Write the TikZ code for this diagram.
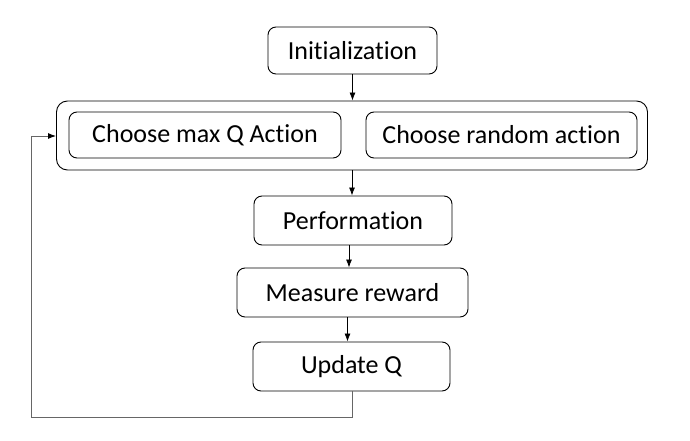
\documentclass[tikz,border=0pt]{standalone}
\usepackage{fontspec}
\setmainfont[Ligatures={NoCommon}]{Carlito}
\usetikzlibrary{arrows.meta,calc}
\begin{document}
\begin{tikzpicture}[x=1pt,y=-1pt,
  box/.style={draw=black,line width=0.9pt,rounded corners=8pt,inner sep=0pt,
    font=\fontsize{26}{30}\selectfont,text=black},
  arr/.style={draw=black,line width=0.8pt,-{Latex[length=8pt,width=6pt]}},
  loopline/.style={draw=black!60,line width=1pt,-{Latex[length=8pt,width=6pt,color=black]}}]
\useasboundingbox[fill=white] (0,0) rectangle (690,441);
\node[box,minimum width=169pt,minimum height=47pt] (init) at (352.5,50.5) {Initialization};
\node[box,rounded corners=11pt,minimum width=591pt,minimum height=69pt] (outer) at (352,135.5) {};
\node[box,minimum width=272pt,minimum height=46pt] (maxq) at (205,135) {Choose max Q Action};
\node[box,minimum width=271pt,minimum height=46pt] (rand) at (501.5,135) {Choose random action};
\node[box,minimum width=198pt,minimum height=49pt] (perf) at (353,220.5) {Performation};
\node[box,minimum width=231pt,minimum height=49pt] (meas) at (352.5,292.5) {Measure reward};
\node[box,minimum width=197pt,minimum height=49pt] (upd) at (351.5,366.5) {Update Q};
\coordinate (p1) at ($(perf.south)+(-4,0)$);
\coordinate (m1) at ($(meas.south)+(-5,0)$);
\draw[arr] (init.south) -- (init.south |- outer.north);
\draw[arr] (outer.south) -- (outer.south |- perf.north);
\draw[arr] (p1) -- (p1 |- meas.north);
\draw[arr] (m1) -- (m1 |- upd.north);
\coordinate (c1) at (352,417);
\coordinate (c2) at (31,417);
\coordinate (c3) at (31,136);
\draw[loopline] (upd.south -| c1) -- (c1) -- (c2) -- (c3) -- (c3 -| outer.west);
\end{tikzpicture}
\end{document}
